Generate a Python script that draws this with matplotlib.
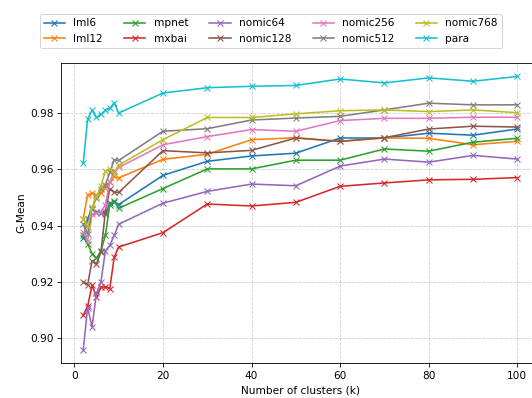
import matplotlib
matplotlib.use("Agg")
import matplotlib.pyplot as plt

# number of clusters
k_values = [2, 3, 4, 5, 6, 7, 8, 9, 10, 20, 30, 40, 50, 60, 70, 80, 90, 100]

# G-Mean per embedding model
lml6 = [0.9355, 0.9425, 0.9460, 0.9450, 0.9445, 0.9440, 0.9480, 0.9485, 0.9475,
        0.9579, 0.9629, 0.9648, 0.9658, 0.9712, 0.9712, 0.9729, 0.9722, 0.9744]
lml12 = [0.9425, 0.9510, 0.9515, 0.9510, 0.9515, 0.9535, 0.9555, 0.9575, 0.9570,
         0.9636, 0.9654, 0.9706, 0.9713, 0.9700, 0.9712, 0.9711, 0.9688, 0.9700]
mpnet = [0.9365, 0.9335, 0.9300, 0.9285, 0.9310, 0.9365, 0.9475, 0.9488, 0.9462,
         0.9532, 0.9602, 0.9602, 0.9633, 0.9633, 0.9673, 0.9665, 0.9697, 0.9711]
mxbai = [0.9081, 0.9113, 0.9188, 0.9145, 0.9180, 0.9182, 0.9176, 0.9288, 0.9324,
         0.9375, 0.9477, 0.9470, 0.9483, 0.9540, 0.9552, 0.9563, 0.9565, 0.9571]
nomic64 = [0.8958, 0.9108, 0.9040, 0.9160, 0.9200, 0.9310, 0.9330, 0.9365, 0.9405,
           0.9480, 0.9522, 0.9548, 0.9542, 0.9612, 0.9637, 0.9626, 0.9650, 0.9637]
nomic128 = [0.9200, 0.9190, 0.9275, 0.9265, 0.9305, 0.9450, 0.9530, 0.9520, 0.9518,
            0.9667, 0.9659, 0.9668, 0.9712, 0.9700, 0.9713, 0.9744, 0.9754, 0.9751]
nomic256 = [0.9376, 0.9346, 0.9440, 0.9445, 0.9450, 0.9474, 0.9555, 0.9595, 0.9607,
            0.9688, 0.9717, 0.9742, 0.9736, 0.9774, 0.9782, 0.9782, 0.9786, 0.9786]
nomic512 = [0.9405, 0.9370, 0.9460, 0.9500, 0.9530, 0.9545, 0.9590, 0.9635, 0.9632,
            0.9736, 0.9745, 0.9776, 0.9783, 0.9789, 0.9812, 0.9836, 0.9830, 0.9830]
nomic768 = [0.9425, 0.9395, 0.9465, 0.9505, 0.9540, 0.9595, 0.9600, 0.9585, 0.9615,
            0.9706, 0.9785, 0.9785, 0.9798, 0.9809, 0.9812, 0.9806, 0.9812, 0.9802]
para = [0.9623, 0.9779, 0.9811, 0.9785, 0.9796, 0.9811, 0.9817, 0.9838, 0.9801,
        0.9872, 0.9891, 0.9896, 0.9899, 0.9922, 0.9908, 0.9926, 0.9914, 0.9931]

model_names = ["lml6", "lml12", "mpnet", "mxbai", "nomic64",
               "nomic128", "nomic256", "nomic512", "nomic768", "para"]
series = [lml6, lml12, mpnet, mxbai, nomic64,
          nomic128, nomic256, nomic512, nomic768, para]


def main():
    fig = plt.figure(figsize=(7.0, 5.2369), dpi=76)
    # axes run past the right edge like in the reference crop
    ax = fig.add_axes([0.1156, 0.0867, 0.8977, 0.7555])

    for name, values in zip(model_names, series):
        ax.plot(k_values, values, marker="x", label=name)

    ax.set_xlabel("Number of clusters (k)")
    ax.set_ylabel("G-Mean")
    ax.grid(True, linestyle="--", alpha=0.6)

    fig.legend(loc="upper center", ncol=5, bbox_to_anchor=(0.509, 0.978))

    fig.savefig("out.png", dpi=76)


if __name__ == "__main__":
    main()
